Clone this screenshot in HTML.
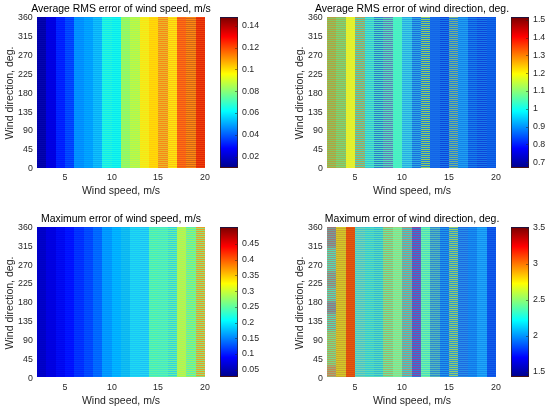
<!DOCTYPE html>
<html><head><meta charset="utf-8"><title>Wind retrieval errors</title>
<style>
html,body{margin:0;padding:0;background:#fff}
body{width:550px;height:407px;position:relative;overflow:hidden;font-family:"Liberation Sans",Arial,Helvetica,sans-serif;color:#262626}
.plot{position:absolute;overflow:hidden}
.plot i{position:absolute;top:0;bottom:0;display:block}
.t,.ti,.xl,.yl{will-change:transform}
.t{position:absolute;font-size:8.8px;line-height:10px;white-space:nowrap}
.yt{text-align:right}
.xt{width:30px;text-align:center}
.ti{position:absolute;width:240px;text-align:center;font-size:10.45px;line-height:12px;color:#000;white-space:nowrap}
.xl{position:absolute;width:120px;text-align:center;font-size:10.5px;line-height:12px;white-space:nowrap}
.yl{position:absolute;width:120px;height:12px;margin-left:-60px;margin-top:-6px;text-align:center;font-size:10.5px;line-height:12px;white-space:nowrap;transform:translate(6px,0) rotate(-90deg)}
.cb{position:absolute;box-sizing:border-box;border:0.5px solid rgba(45,25,25,.7);background:linear-gradient(to top,#00008f 0%,#0000ff 12.5%,#00ffff 37.5%,#ffff00 62.5%,#ff0000 87.5%,#800000 100%)}
.cb b{position:absolute;right:0;width:1.6px;height:1px;background:rgba(38,38,38,.5)}
</style></head><body>
<div class="plot" style="left:37px;top:17px;width:168px;height:150.5px"><i style="left:0.0px;width:9.63px;background:linear-gradient(#0000a8 50%,#0404b0 50%) 0 0px/100% 2px"></i><i style="left:9.33px;width:9.64px;background:linear-gradient(#0000de 50%,#0000e6 50%) 0 0px/100% 2px"></i><i style="left:18.67px;width:9.63px;background:linear-gradient(#0018ff 50%,#0028ff 50%) 0 0px/100% 2px"></i><i style="left:28.0px;width:9.63px;background:linear-gradient(#0038ff 50%,#0050ff 50%) 0 0px/100% 2px"></i><i style="left:37.33px;width:9.64px;background:linear-gradient(#0088ff 50%,#0098ff 50%) 0 0px/100% 2px"></i><i style="left:46.67px;width:9.63px;background:linear-gradient(#0098ff 50%,#00a8ff 50%) 0 0px/100% 2px"></i><i style="left:56.0px;width:9.63px;background:linear-gradient(#08acf8 50%,#10c0fc 50%) 0 0px/100% 2px"></i><i style="left:65.33px;width:9.64px;background:linear-gradient(#10e8f0 50%,#28f8d8 50%) 0 0px/100% 2px"></i><i style="left:74.67px;width:9.63px;background:linear-gradient(#08e8f0 50%,#18f8e8 50%) 0 0px/100% 2px"></i><i style="left:84.0px;width:9.63px;background:linear-gradient(#88f870 50%,#a0f858 50%) 0 0px/100% 2px"></i><i style="left:93.33px;width:9.64px;background:linear-gradient(#a8f858 50%,#c0f840 50%) 0 0px/100% 2px"></i><i style="left:102.67px;width:9.63px;background:linear-gradient(#eef01c 50%,#fae414 50%) 0 0px/100% 2px"></i><i style="left:112.0px;width:9.63px;background:linear-gradient(#ffdc04 50%,#ffcc0c 50%) 0 0px/100% 2px"></i><i style="left:121.33px;width:9.64px;background:linear-gradient(#f88818 50%,#e8b828 50%) 0 0px/100% 2px"></i><i style="left:130.67px;width:9.63px;background:linear-gradient(#fce80c 50%,#fcc414 50%) 0 0px/100% 2px"></i><i style="left:140.0px;width:9.63px;background:linear-gradient(#ff7010 50%,#f05818 50%) 0 0px/100% 2px"></i><i style="left:149.33px;width:9.64px;background:linear-gradient(#ff8810 50%,#d06818 50%) 0 0px/100% 2px"></i><i style="left:158.67px;width:9.63px;background:linear-gradient(#f04008 50%,#e02808 50%) 0 0px/100% 2px"></i></div><div class="ti" style="left:1.0px;top:3.1px">Average RMS error of wind speed, m/s</div><span class="t yt" style="right:517.5px;top:162.9px">0</span><span class="t yt" style="right:517.5px;top:144.1px">45</span><span class="t yt" style="right:517.5px;top:125.3px">90</span><span class="t yt" style="right:517.5px;top:106.5px">135</span><span class="t yt" style="right:517.5px;top:87.7px">180</span><span class="t yt" style="right:517.5px;top:68.8px">225</span><span class="t yt" style="right:517.5px;top:50.0px">270</span><span class="t yt" style="right:517.5px;top:31.2px">315</span><span class="t yt" style="right:517.5px;top:12.4px">360</span><span class="t xt" style="left:50.0px;top:172.1px">5</span><span class="t xt" style="left:96.7px;top:172.1px">10</span><span class="t xt" style="left:143.3px;top:172.1px">15</span><span class="t xt" style="left:190.0px;top:172.1px">20</span><div class="xl" style="left:61.0px;top:184.1px">Wind speed, m/s</div><div class="yl" style="left:2.8px;top:93.2px">Wind direction, deg.</div><div class="cb" style="left:220px;top:17px;width:18px;height:150.5px"><b style="top:7.7px"></b><b style="top:29.5px"></b><b style="top:51.3px"></b><b style="top:73.1px"></b><b style="top:94.9px"></b><b style="top:116.7px"></b><b style="top:138.5px"></b></div><span class="t ct" style="left:242.0px;top:20.1px">0.14</span><span class="t ct" style="left:242.0px;top:41.9px">0.12</span><span class="t ct" style="left:242.0px;top:63.7px">0.1</span><span class="t ct" style="left:242.0px;top:85.5px">0.08</span><span class="t ct" style="left:242.0px;top:107.3px">0.06</span><span class="t ct" style="left:242.0px;top:129.1px">0.04</span><span class="t ct" style="left:242.0px;top:150.9px">0.02</span><div class="plot" style="left:327px;top:17px;width:169px;height:150.5px"><i style="left:0.0px;width:9.69px;background:linear-gradient(#b4a241 50%,#88c460 50%) 0 0px/100% 2px"></i><i style="left:9.39px;width:9.69px;background:linear-gradient(#9db853 50%,#78d478 50%) 0 0px/100% 2px"></i><i style="left:18.78px;width:9.69px;background:linear-gradient(#ebf025 50%,#d8f038 50%) 0 0px/100% 2px"></i><i style="left:28.17px;width:9.69px;background:linear-gradient(#b1a159 50%,#50d0b0 50%) 0 0px/100% 2px"></i><i style="left:37.56px;width:9.68px;background:linear-gradient(#37c3d9 50%,#50e8c0 50%) 0 0px/100% 2px"></i><i style="left:46.94px;width:9.69px;background:linear-gradient(#2b7ccc 50%,#50e0c0 50%) 0 0px/100% 2px"></i><i style="left:56.33px;width:9.69px;background:linear-gradient(#5e7cbe 50%,#58e0b8 50%) 0 0px/100% 2px"></i><i style="left:65.72px;width:9.69px;background:linear-gradient(#44f0c6 50%,#50f0c0 50%) 0 0px/100% 2px"></i><i style="left:75.11px;width:9.69px;background:linear-gradient(#27abe6 50%,#40d0e0 50%) 0 0px/100% 2px"></i><i style="left:84.5px;width:9.69px;background:linear-gradient(#1770e0 50%,#30a8e0 50%) 0 0px/100% 2px"></i><i style="left:93.89px;width:9.69px;background:linear-gradient(#90cb63 50%,#2080e0 50%) 0 0px/100% 2px"></i><i style="left:103.28px;width:9.69px;background:linear-gradient(#1264e8 50%,#1870e8 50%) 0 0px/100% 2px"></i><i style="left:112.67px;width:9.69px;background:linear-gradient(#0c46dc 50%,#1878e8 50%) 0 0px/100% 2px"></i><i style="left:122.06px;width:9.68px;background:linear-gradient(#77b284 50%,#2080e8 50%) 0 0px/100% 2px"></i><i style="left:131.44px;width:9.69px;background:linear-gradient(#1481ea 50%,#20a0f0 50%) 0 0px/100% 2px"></i><i style="left:140.83px;width:9.69px;background:linear-gradient(#0c54e2 50%,#1880e8 50%) 0 0px/100% 2px"></i><i style="left:150.22px;width:9.69px;background:linear-gradient(#0c46dc 50%,#1878e8 50%) 0 0px/100% 2px"></i><i style="left:159.61px;width:9.69px;background:linear-gradient(#0a55e2 50%,#1068e8 50%) 0 0px/100% 2px"></i></div><div class="ti" style="left:291.5px;top:3.1px">Average RMS error of wind direction, deg.</div><span class="t yt" style="right:227.5px;top:162.9px">0</span><span class="t yt" style="right:227.5px;top:144.1px">45</span><span class="t yt" style="right:227.5px;top:125.3px">90</span><span class="t yt" style="right:227.5px;top:106.5px">135</span><span class="t yt" style="right:227.5px;top:87.7px">180</span><span class="t yt" style="right:227.5px;top:68.8px">225</span><span class="t yt" style="right:227.5px;top:50.0px">270</span><span class="t yt" style="right:227.5px;top:31.2px">315</span><span class="t yt" style="right:227.5px;top:12.4px">360</span><span class="t xt" style="left:340.2px;top:172.1px">5</span><span class="t xt" style="left:387.1px;top:172.1px">10</span><span class="t xt" style="left:434.1px;top:172.1px">15</span><span class="t xt" style="left:481.0px;top:172.1px">20</span><div class="xl" style="left:351.5px;top:184.1px">Wind speed, m/s</div><div class="yl" style="left:292.8px;top:93.2px">Wind direction, deg.</div><div class="cb" style="left:510.7px;top:17px;width:18px;height:150.5px"><b style="top:1.8px"></b><b style="top:19.6px"></b><b style="top:37.4px"></b><b style="top:55.2px"></b><b style="top:73.0px"></b><b style="top:90.8px"></b><b style="top:108.6px"></b><b style="top:126.4px"></b><b style="top:144.2px"></b></div><span class="t ct" style="left:532.7px;top:14.2px">1.5</span><span class="t ct" style="left:532.7px;top:32.0px">1.4</span><span class="t ct" style="left:532.7px;top:49.8px">1.3</span><span class="t ct" style="left:532.7px;top:67.6px">1.2</span><span class="t ct" style="left:532.7px;top:85.4px">1.1</span><span class="t ct" style="left:532.7px;top:103.2px">1</span><span class="t ct" style="left:532.7px;top:121.0px">0.9</span><span class="t ct" style="left:532.7px;top:138.8px">0.8</span><span class="t ct" style="left:532.7px;top:156.6px">0.7</span><div class="plot" style="left:37px;top:226.5px;width:168px;height:150.8px"><i style="left:0.0px;width:9.63px;background:linear-gradient(#0000c4 50%,#0000cc 50%) 0 0px/100% 2px"></i><i style="left:9.33px;width:9.64px;background:linear-gradient(#0000de 50%,#0000e4 50%) 0 0px/100% 2px"></i><i style="left:18.67px;width:9.63px;background:linear-gradient(#0004f0 50%,#000cf4 50%) 0 0px/100% 2px"></i><i style="left:28.0px;width:9.63px;background:linear-gradient(#000cff 50%,#0018ff 50%) 0 0px/100% 2px"></i><i style="left:37.33px;width:9.64px;background:linear-gradient(#0028ff 50%,#0038ff 50%) 0 0px/100% 2px"></i><i style="left:46.67px;width:9.63px;background:linear-gradient(#0040ff 50%,#0050ff 50%) 0 0px/100% 2px"></i><i style="left:56.0px;width:9.63px;background:linear-gradient(#0060ff 50%,#0070ff 50%) 0 0px/100% 2px"></i><i style="left:65.33px;width:9.64px;background:linear-gradient(#0090ff 50%,#00a0ff 50%) 0 0px/100% 2px"></i><i style="left:74.67px;width:9.63px;background:linear-gradient(#00a8ff 50%,#00b8ff 50%) 0 0px/100% 2px"></i><i style="left:84.0px;width:9.63px;background:linear-gradient(#08b4f4 50%,#14c0f0 50%) 0 0px/100% 2px"></i><i style="left:93.33px;width:9.64px;background:linear-gradient(#18c8f8 50%,#20d8f0 50%) 0 0px/100% 2px"></i><i style="left:102.67px;width:9.63px;background:linear-gradient(#18c0f8 50%,#28d8f0 50%) 0 0px/100% 2px"></i><i style="left:112.0px;width:9.63px;background:linear-gradient(#40ecc4 50%,#60f4a4 50%) 0 0px/100% 2px"></i><i style="left:121.33px;width:9.64px;background:linear-gradient(#44e8c8 50%,#5cf4ac 50%) 0 0px/100% 2px"></i><i style="left:130.67px;width:9.63px;background:linear-gradient(#30d4e0 50%,#68f0a0 50%) 0 0px/100% 2px"></i><i style="left:140.0px;width:9.63px;background:linear-gradient(#c0f048 50%,#a0f860 50%) 0 0px/100% 2px"></i><i style="left:149.33px;width:9.64px;background:linear-gradient(#58f0b0 50%,#98f068 50%) 0 0px/100% 2px"></i><i style="left:158.67px;width:9.63px;background:linear-gradient(#e8a028 50%,#90e078 50%) 0 0px/100% 2px"></i></div><div class="ti" style="left:1.0px;top:212.6px">Maximum error of wind speed, m/s</div><span class="t yt" style="right:517.5px;top:372.7px">0</span><span class="t yt" style="right:517.5px;top:353.8px">45</span><span class="t yt" style="right:517.5px;top:335.0px">90</span><span class="t yt" style="right:517.5px;top:316.1px">135</span><span class="t yt" style="right:517.5px;top:297.3px">180</span><span class="t yt" style="right:517.5px;top:278.4px">225</span><span class="t yt" style="right:517.5px;top:259.6px">270</span><span class="t yt" style="right:517.5px;top:240.8px">315</span><span class="t yt" style="right:517.5px;top:221.9px">360</span><span class="t xt" style="left:50.0px;top:381.9px">5</span><span class="t xt" style="left:96.7px;top:381.9px">10</span><span class="t xt" style="left:143.3px;top:381.9px">15</span><span class="t xt" style="left:190.0px;top:381.9px">20</span><div class="xl" style="left:61.0px;top:393.9px">Wind speed, m/s</div><div class="yl" style="left:2.8px;top:302.9px">Wind direction, deg.</div><div class="cb" style="left:220px;top:226.5px;width:18px;height:150.8px"><b style="top:16.5px"></b><b style="top:32.2px"></b><b style="top:47.9px"></b><b style="top:63.6px"></b><b style="top:79.3px"></b><b style="top:95.0px"></b><b style="top:110.7px"></b><b style="top:126.4px"></b><b style="top:142.1px"></b></div><span class="t ct" style="left:242.0px;top:238.4px">0.45</span><span class="t ct" style="left:242.0px;top:254.1px">0.4</span><span class="t ct" style="left:242.0px;top:269.8px">0.35</span><span class="t ct" style="left:242.0px;top:285.5px">0.3</span><span class="t ct" style="left:242.0px;top:301.2px">0.25</span><span class="t ct" style="left:242.0px;top:316.9px">0.2</span><span class="t ct" style="left:242.0px;top:332.6px">0.15</span><span class="t ct" style="left:242.0px;top:348.3px">0.1</span><span class="t ct" style="left:242.0px;top:364.0px">0.05</span><div class="plot" style="left:327px;top:226.5px;width:169px;height:150.8px"><i style="left:0.0px;width:9.69px;background:linear-gradient(#af876b 50%,#58d8b0 50%) 0 0px/100% 2px"></i><i style="left:0.0px;width:9.69px;background:linear-gradient(to bottom,rgba(140,100,130,.5) 0,rgba(140,100,130,.45) 19px,rgba(80,210,180,.25) 22px,rgba(80,210,180,.25) 43px,rgba(140,110,130,.3) 46px,rgba(140,110,130,.3) 59px,rgba(80,210,180,.2) 62px,rgba(80,210,180,.2) 73px,rgba(130,100,140,.45) 76px,rgba(130,100,140,.45) 85px,rgba(80,210,170,.15) 88px,rgba(80,210,170,.15) 102px,rgba(170,215,70,.4) 106px,rgba(170,215,70,.4) 137px,rgba(225,130,60,.5) 140px,rgba(225,130,60,.5) 100%)"></i><i style="left:9.39px;width:9.69px;background:linear-gradient(#d4ca24 50%,#c8a830 50%) 0 0px/100% 2px"></i><i style="left:18.78px;width:9.69px;background:linear-gradient(#e8580a 50%,#d84c10 50%) 0 0px/100% 2px"></i><i style="left:28.17px;width:9.69px;background:linear-gradient(#45c4cc 50%,#74d4b0 50%) 0 0px/100% 2px"></i><i style="left:37.56px;width:9.68px;background:linear-gradient(#34c9d6 50%,#60dcb4 50%) 0 0px/100% 2px"></i><i style="left:46.94px;width:9.69px;background:linear-gradient(#30bad4 50%,#5cdcb8 50%) 0 0px/100% 2px"></i><i style="left:56.33px;width:9.69px;background:linear-gradient(#a3b36b 50%,#68e8a0 50%) 0 0px/100% 2px"></i><i style="left:65.72px;width:9.69px;background:linear-gradient(#96da81 50%,#74f0a0 50%) 0 0px/100% 2px"></i><i style="left:75.11px;width:9.69px;background:linear-gradient(#a4967d 50%,#40c8c8 50%) 0 0px/100% 2px"></i><i style="left:84.5px;width:9.69px;background:linear-gradient(#8746a0 50%,#3078d8 50%) 0 0px/100% 2px"></i><i style="left:93.89px;width:9.69px;background:linear-gradient(#46ddc5 50%,#78f0a0 50%) 0 0px/100% 2px"></i><i style="left:103.28px;width:9.69px;background:linear-gradient(#2c8cd1 50%,#58b8b8 50%) 0 0px/100% 2px"></i><i style="left:112.67px;width:9.69px;background:linear-gradient(#146ce2 50%,#2098e8 50%) 0 0px/100% 2px"></i><i style="left:122.06px;width:9.68px;background:linear-gradient(#94ca68 50%,#3098d8 50%) 0 0px/100% 2px"></i><i style="left:131.44px;width:9.69px;background:linear-gradient(#1c6be2 50%,#2890e8 50%) 0 0px/100% 2px"></i><i style="left:140.83px;width:9.69px;background:linear-gradient(#1277ea 50%,#1890f0 50%) 0 0px/100% 2px"></i><i style="left:150.22px;width:9.69px;background:linear-gradient(#148ff2 50%,#20a8f8 50%) 0 0px/100% 2px"></i><i style="left:159.61px;width:9.69px;background:linear-gradient(#0a4de8 50%,#1060e8 50%) 0 0px/100% 2px"></i></div><div class="ti" style="left:291.5px;top:212.6px">Maximum error of wind direction, deg.</div><span class="t yt" style="right:227.5px;top:372.7px">0</span><span class="t yt" style="right:227.5px;top:353.8px">45</span><span class="t yt" style="right:227.5px;top:335.0px">90</span><span class="t yt" style="right:227.5px;top:316.1px">135</span><span class="t yt" style="right:227.5px;top:297.3px">180</span><span class="t yt" style="right:227.5px;top:278.4px">225</span><span class="t yt" style="right:227.5px;top:259.6px">270</span><span class="t yt" style="right:227.5px;top:240.8px">315</span><span class="t yt" style="right:227.5px;top:221.9px">360</span><span class="t xt" style="left:340.2px;top:381.9px">5</span><span class="t xt" style="left:387.1px;top:381.9px">10</span><span class="t xt" style="left:434.1px;top:381.9px">15</span><span class="t xt" style="left:481.0px;top:381.9px">20</span><div class="xl" style="left:351.5px;top:393.9px">Wind speed, m/s</div><div class="yl" style="left:292.8px;top:302.9px">Wind direction, deg.</div><div class="cb" style="left:510.7px;top:226.5px;width:18px;height:150.8px"><b style="top:0.4px"></b><b style="top:36.4px"></b><b style="top:72.4px"></b><b style="top:108.4px"></b><b style="top:144.4px"></b></div><span class="t ct" style="left:532.7px;top:222.3px">3.5</span><span class="t ct" style="left:532.7px;top:258.3px">3</span><span class="t ct" style="left:532.7px;top:294.3px">2.5</span><span class="t ct" style="left:532.7px;top:330.3px">2</span><span class="t ct" style="left:532.7px;top:366.3px">1.5</span>
</body></html>
